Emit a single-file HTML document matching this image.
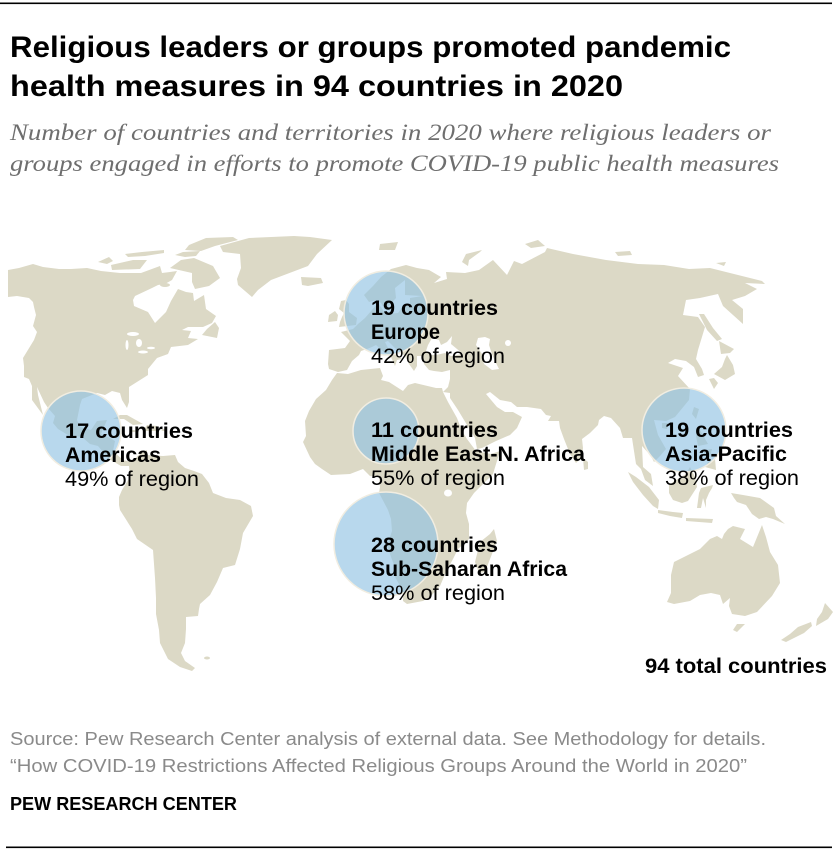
<!DOCTYPE html>
<html>
<head>
<meta charset="utf-8">
<style>
html,body{margin:0;padding:0;background:#fff;}
svg{display:block;}
.t{font-family:"Liberation Sans",Arial,sans-serif;font-weight:bold;fill:#000;}
.sub{font-family:"Liberation Serif","Times New Roman",serif;font-style:italic;fill:#6e6e6e;}
.src{font-family:"Liberation Sans",Arial,sans-serif;fill:#8a8a8a;}
.lb{font-family:"Liberation Sans",Arial,sans-serif;font-weight:bold;fill:#000;font-size:21px;}
.lr{font-family:"Liberation Sans",Arial,sans-serif;fill:#000;font-size:21px;}
</style>
</head>
<body>
<svg width="840" height="854" viewBox="0 0 840 854" xmlns="http://www.w3.org/2000/svg">
<rect x="0" y="0" width="840" height="854" fill="#fff"/>
<rect x="0" y="2.5" width="832" height="1.6" fill="#000"/>

<text class="t" x="10" y="57" font-size="30" textLength="721" lengthAdjust="spacingAndGlyphs">Religious leaders or groups promoted pandemic</text>
<text class="t" x="10" y="96" font-size="30" textLength="613" lengthAdjust="spacingAndGlyphs">health measures in 94 countries in 2020</text>

<text class="sub" x="10" y="140" font-size="23" textLength="761" lengthAdjust="spacingAndGlyphs">Number of countries and territories in 2020 where religious leaders or</text>
<text class="sub" x="10" y="171" font-size="23" textLength="769" lengthAdjust="spacingAndGlyphs">groups engaged in efforts to promote COVID-19 public health measures</text>

<g fill="#dcd9c6" stroke="none">
<!-- Americas -->
<polygon points="8,270 19,268 33,264 43,267 59,269 71,269 87,268 101,271 120,273 141,273 160,266 162,273 170,272 177,271 172,280 165,284 158,285 152,288 135,296 133,300 134,306 148,312 155,323 160,318 166,312 171,301 178,289 186,292 193,293 194,301 204,295 206,309 216,316 212,323 203,327 188,327 182,330 191,331 188,338 198,339 188,345 171,347 168,354 157,358 148,369 148,375 129,387 129,402 127,408 122,400 120,393 112,391 105,395 97,393 82,399 80,405 77,420 80,427 91,430 97,421 107,420 101,434 110,438 115,441 113,451 123,460 131,462 140,454 147,450 147,455 163,456 175,455 178,462 185,468 194,471 202,474 209,483 213,493 226,498 240,500 251,506 253,516 243,533 240,549 235,565 223,568 217,582 210,595 200,604 199,609 198,616 186,617 186,629 185,643 181,653 185,661 195,668 192,671 180,667 168,659 160,643 159,630 156,614 156,598 155,578 153,550 137,539 132,529 120,510 119,505 119,497 122,490 125,485 130,477 129,466 121,466 109,459 103,452 98,446 90,444 82,437 68,435 58,429 53,423 55,416 48,408 44,402 37,387 38,395 43,415 32,400 32,386 29,379 24,377 24,366 23,358 34,340 37,332 33,326 36,315 34,307 33,302 29,298 17,296 8,297"/>
<!-- Greenland -->
<polygon points="294,236 310,237 332,240 317,254 308,266 271,280 258,290 252,297 238,285 237,279 241,268 240,254 223,252 220,246 249,238"/>
<!-- Arctic islands -->
<polygon points="194,258 213,266 220,278 209,286 195,289 192,282 192,273 170,268 181,260"/>
<polygon points="233,237 238,240 215,246 201,251 185,250 189,245 206,238"/>
<polygon points="111,265 133,260 147,260 140,269 112,270"/>
<polygon points="109,257 98,262 107,264 113,261"/>
<polygon points="125,254 142,252 164,250 164,253 145,256 128,257"/>
<polygon points="175,255 183,252 200,251 196,256 185,257"/>
<ellipse cx="165" cy="285" rx="5" ry="2"/>
<polygon points="215,322 219,328 217,338 202,335 207,329"/>
<polygon points="113,419 120,415 127,415 143,424 133,425 124,419"/>
<polygon points="147,425 157,426 158,431 143,431"/>
<ellipse cx="164" cy="430" rx="2.5" ry="1"/>
<ellipse cx="133" cy="431" rx="2.5" ry="1"/>
<ellipse cx="207" cy="658" rx="3" ry="1.5"/>
<!-- Africa -->
<polygon points="337,373 332,380 326,390 316,399 309,411 305,421 306,436 303,442 310,457 315,464 322,469 331,475 350,474 363,469 370,476 379,477 380,487 379,493 388,510 391,519 392,531 387,546 394,565 395,577 399,584 403,595 403,601 407,604 423,601 431,596 440,586 446,572 453,559 458,549 469,539 469,524 466,513 467,503 474,493 484,483 493,474 500,451 491,454 476,451 467,439 462,431 457,418 448,402 443,392 442,388 436,388 415,383 408,385 403,391 389,382 381,380 383,376 380,368 361,370 348,374"/>
<polygon points="494,529 497,541 485,572 479,573 475,562 480,542 490,534"/>
<!-- Eurasia -->
<polygon points="338,372 329,369 328,364 329,350 345,348 350,341 341,332 353,329 358,324 365,318 372,310 378,303 383,310 385,314 398,313 404,305 410,305 410,298 422,296 405,295 405,280 395,288 396,298 385,310 381,303 377,300 369,302 364,295 373,286 381,277 391,269 406,265 417,268 429,270 441,277 434,283 447,279 446,272 465,273 479,270 493,260 507,275 514,261 522,264 545,252 547,248 573,254 606,260 638,264 664,265 689,269 710,268 762,281 765,284 745,283 757,289 745,296 732,300 743,309 743,324 723,306 718,294 700,298 686,300 683,315 698,317 705,327 698,350 696,359 702,369 704,375 698,377 694,367 686,361 675,359 668,363 683,368 678,376 690,389 689,400 675,417 666,421 654,420 658,435 666,449 660,456 654,462 651,456 642,446 643,467 651,474 653,486 645,480 641,469 636,464 632,438 623,438 620,428 611,418 604,416 599,420 598,425 590,433 582,439 583,448 582,457 576,463 570,454 564,439 560,428 559,421 548,421 551,416 546,415 541,409 527,407 517,407 511,402 500,400 490,392 486,394 497,407 505,412 513,412 522,417 517,428 510,435 496,441 482,448 477,449 475,438 464,420 458,410 450,398 450,393 443,392 448,387 450,379 450,370 442,372 434,371 429,370 424,364 423,358 422,356 417,356 417,366 414,371 409,364 405,356 395,348 388,341 385,342 388,348 395,353 402,359 397,360 395,366 391,357 385,353 376,345 372,347 367,349 361,351 359,355 352,361 347,370"/>
<!-- European / Asian islands -->
<polygon points="339,327 356,325 357,318 349,312 349,304 346,300 341,301 339,309 344,313 342,317 340,322"/>
<polygon points="335,311 329,315 328,322 337,321 338,315"/>
<polygon points="301,277 321,278 323,283 308,286 302,285"/>
<polygon points="380,244 398,242 395,250 379,250"/>
<polygon points="482,250 466,254 462,262 468,266 469,260 480,252"/>
<polygon points="525,244 538,240 545,246 531,248"/>
<polygon points="615,252 630,251 632,255 618,256"/>
<polygon points="716,263 726,262 724,266"/>
<polygon points="699,314 704,314 713,328 722,339 717,341 707,330"/>
<polygon points="719,341 734,349 730,353 721,354"/>
<polygon points="727,355 733,365 735,374 730,377 725,380 714,374 722,367 725,359"/>
<polygon points="709,379 714,389 718,383 714,378"/>
<polygon points="694,407 699,409 696,419 692,414"/>
<polygon points="662,423 668,423 667,429 662,428"/>
<polygon points="583,458 588,462 588,469 584,470"/>
<polygon points="697,430 700,430 708,444 698,446 696,436"/>
<polygon points="704,450 712,449 710,457 704,456"/>
<polygon points="708,462 715,459 716,470 705,467"/>
<polygon points="690,467 695,477 697,487 688,501 682,503 673,500 669,493 669,485 673,482 686,474"/>
<polygon points="628,472 636,477 649,487 659,500 658,509 653,506 643,495 633,482"/>
<polygon points="658,510 673,512 683,513 682,518 670,516 658,513"/>
<polygon points="686,518 713,519 712,523 686,521"/>
<polygon points="713,485 701,488 699,493 697,508 701,508 703,498 706,508 706,500 709,493 712,488"/>
<polygon points="731,493 743,495 760,498 774,508 776,516 785,524 773,519 766,517 759,519 752,514 746,505 737,502 734,498"/>
<!-- Oceania -->
<polygon points="728,529 733,526 745,529 740,539 753,547 762,525 766,537 770,552 778,565 780,583 772,596 757,612 745,616 732,614 729,606 730,598 723,604 720,595 711,593 700,595 690,601 674,604 667,602 671,593 671,575 674,562 684,557 700,549 710,539 717,536 722,539 724,534"/>
<polygon points="737,624 745,624 737,632 733,630"/>
<polygon points="825,603 833,612 828,619 816,626 817,619 822,612"/>
<polygon points="811,622 812,626 804,633 786,642 781,640 790,634 798,627"/>
</g>
<!-- Inland water -->
<g fill="#fff">
<polygon points="430,355 426,351 428,345 432,338 439,340 441,345 447,342 452,336 451,344 463,354 451,356 445,353 436,355"/>
<polygon points="485,337 478,338 476,345 482,354 484,364 492,370 499,369 494,359 492,354 489,345 490,339"/>
<ellipse cx="508" cy="343" rx="3" ry="3"/>
<ellipse cx="133" cy="334" rx="6" ry="2"/>
<ellipse cx="127" cy="345" rx="1.5" ry="5"/>
<ellipse cx="139" cy="343" rx="3" ry="4"/>
<ellipse cx="143" cy="352" rx="5" ry="1.5"/>
<ellipse cx="151" cy="348" rx="4" ry="1.2"/>
<ellipse cx="448" cy="493" rx="4" ry="3.5"/>
</g>

<!-- Circles -->
<g fill="#8ec2e2" fill-opacity="0.63" stroke="#f1ede1" stroke-width="1.5">
<circle cx="81" cy="431" r="40"/>
<circle cx="386" cy="313" r="42"/>
<circle cx="386" cy="431" r="33"/>
<circle cx="386" cy="544" r="52"/>
<circle cx="684" cy="430" r="42"/>
</g>

<!-- Labels -->
<text class="lb" x="65" y="438" textLength="128" lengthAdjust="spacingAndGlyphs">17 countries</text>
<text class="lb" x="65" y="462" textLength="96" lengthAdjust="spacingAndGlyphs">Americas</text>
<text class="lr" x="65" y="486" textLength="134" lengthAdjust="spacingAndGlyphs">49% of region</text>

<text class="lb" x="371" y="315" textLength="127" lengthAdjust="spacingAndGlyphs">19 countries</text>
<text class="lb" x="371" y="339" textLength="69" lengthAdjust="spacingAndGlyphs">Europe</text>
<text class="lr" x="371" y="363" textLength="134" lengthAdjust="spacingAndGlyphs">42% of region</text>

<text class="lb" x="371" y="437" textLength="127" lengthAdjust="spacingAndGlyphs">11 countries</text>
<text class="lb" x="371" y="461" textLength="214" lengthAdjust="spacingAndGlyphs">Middle East-N. Africa</text>
<text class="lr" x="371" y="485" textLength="134" lengthAdjust="spacingAndGlyphs">55% of region</text>

<text class="lb" x="371" y="552" textLength="127" lengthAdjust="spacingAndGlyphs">28 countries</text>
<text class="lb" x="371" y="576" textLength="196" lengthAdjust="spacingAndGlyphs">Sub-Saharan Africa</text>
<text class="lr" x="371" y="600" textLength="134" lengthAdjust="spacingAndGlyphs">58% of region</text>

<text class="lb" x="665" y="437" textLength="128" lengthAdjust="spacingAndGlyphs">19 countries</text>
<text class="lb" x="665" y="461" textLength="122" lengthAdjust="spacingAndGlyphs">Asia-Pacific</text>
<text class="lr" x="665" y="485" textLength="134" lengthAdjust="spacingAndGlyphs">38% of region</text>

<text class="lb" x="645" y="673" textLength="182" lengthAdjust="spacingAndGlyphs">94 total countries</text>

<!-- Footer -->
<text class="src" x="10" y="745" font-size="18" textLength="756" lengthAdjust="spacingAndGlyphs">Source: Pew Research Center analysis of external data. See Methodology for details.</text>
<text class="src" x="10" y="772" font-size="18" textLength="737" lengthAdjust="spacingAndGlyphs">“How COVID-19 Restrictions Affected Religious Groups Around the World in 2020”</text>
<text class="t" x="10" y="810" font-size="18" textLength="227" lengthAdjust="spacingAndGlyphs">PEW RESEARCH CENTER</text>

<rect x="6" y="846.5" width="826" height="1.6" fill="#000"/>
</svg>
</body>
</html>
